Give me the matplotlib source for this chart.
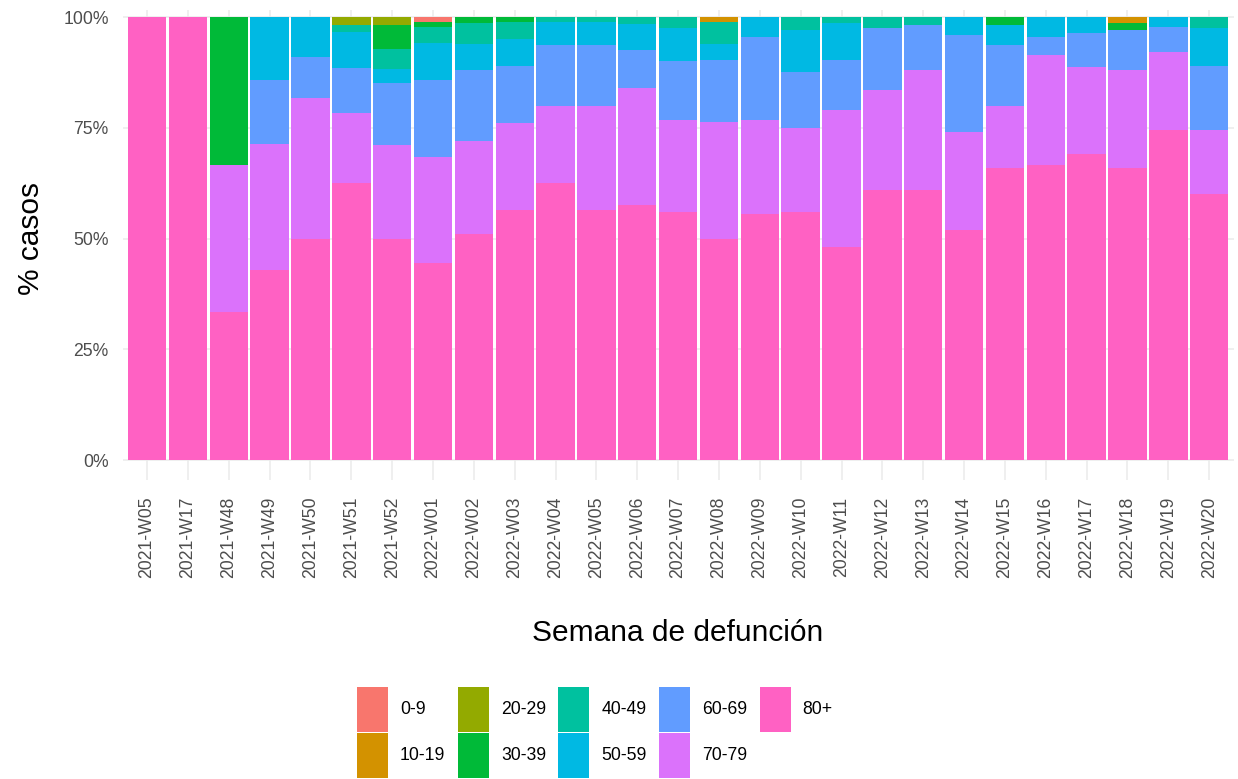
import numpy as np
import matplotlib
matplotlib.use("Agg")
import matplotlib.pyplot as plt
from matplotlib.patches import Patch

plt.rcParams['font.family'] = ['Liberation Sans', 'DejaVu Sans']

# semanas de defuncion
semanas = ["2021-W05", "2021-W17", "2021-W48", "2021-W49", "2021-W50", "2021-W51", "2021-W52",
           "2022-W01", "2022-W02", "2022-W03", "2022-W04", "2022-W05", "2022-W06", "2022-W07",
           "2022-W08", "2022-W09", "2022-W10", "2022-W11", "2022-W12", "2022-W13", "2022-W14",
           "2022-W15", "2022-W16", "2022-W17", "2022-W18", "2022-W19", "2022-W20"]

grupos = ["0-9", "10-19", "20-29", "30-39", "40-49", "50-59", "60-69", "70-79", "80+"]
colores = ["#F8766D", "#D39200", "#93AA00", "#00BA38", "#00C19F", "#00B9E3", "#619CFF", "#DB72FB", "#FF61C3"]

# % de casos por grupo de edad
g_0_9   = [0, 0, 0, 0, 0, 0, 0, 1.1, 0, 0, 0, 0, 0, 0, 0, 0, 0, 0, 0, 0, 0, 0, 0, 0, 0, 0, 0]
g_10_19 = [0, 0, 0, 0, 0, 0, 0, 0, 0, 0, 0, 0, 0, 0, 1.1, 0, 0, 0, 0, 0, 0, 0, 0, 0, 1.4, 0, 0]
g_20_29 = [0, 0, 0, 0, 0, 1.8, 1.8, 0, 0, 0, 0, 0, 0, 0, 0, 0, 0, 0, 0, 0, 0, 0, 0, 0, 0, 0, 0]
g_30_39 = [0, 0, 33.3, 0, 0, 0, 5.5, 1.1, 1.4, 1.1, 0, 0, 0, 0, 0, 0, 0, 0, 0, 0, 0, 1.8, 0, 0, 1.6, 0, 0]
g_40_49 = [0, 0, 0, 0, 0, 1.5, 4.5, 3.6, 4.6, 3.9, 1.1, 1.1, 1.5, 2.5, 5.0, 0, 3.0, 1.4, 2.5, 1.8, 0, 0, 0, 0, 0, 0, 2.5]
g_50_59 = [0, 0, 0, 14.3, 9.1, 8.2, 3.2, 8.4, 6.0, 6.0, 5.2, 5.2, 6.0, 7.5, 3.5, 4.5, 9.4, 8.3, 0, 0, 4.0, 4.5, 4.5, 3.6, 0, 2.3, 8.5]
g_60_69 = [0, 0, 0, 14.3, 9.1, 10.2, 14.0, 17.4, 16.0, 13.0, 13.7, 13.7, 8.5, 13.3, 14.0, 18.8, 12.6, 11.3, 14.0, 10.2, 22.0, 13.7, 4.0, 7.7, 9.0, 5.7, 14.5]
g_70_79 = [0, 0, 33.3, 28.6, 31.8, 15.8, 21.0, 23.9, 21.0, 19.5, 17.5, 23.5, 26.5, 20.7, 26.4, 21.2, 19.0, 31.0, 22.5, 27.0, 22.0, 14.0, 25.0, 19.7, 22.0, 17.5, 14.5]
g_80    = [100, 100, 33.3, 42.9, 50.0, 62.5, 50.0, 44.5, 51.0, 56.5, 62.5, 56.5, 57.5, 56.0, 50.0, 55.5, 56.0, 48.0, 61.0, 61.0, 52.0, 66.0, 66.5, 69.0, 66.0, 74.5, 60.0]

datos = np.array([g_0_9, g_10_19, g_20_29, g_30_39, g_40_49, g_50_59, g_60_69, g_70_79, g_80], dtype=float)
prop = datos / datos.sum(axis=0)  # como position = "fill"

fig = plt.figure(figsize=(12.38, 7.79), dpi=100)
ax = fig.add_axes([0.099, 0.3838, 0.8975, 0.6029])

x = np.arange(len(semanas))
base = np.zeros(len(semanas))
# 80+ abajo, 0-9 arriba
for i in range(len(grupos) - 1, -1, -1):
    ax.bar(x, prop[i], bottom=base, width=0.94, color=colores[i], linewidth=0, zorder=2)
    base += prop[i]

ax.set_xlim(-0.6, len(semanas) - 0.4)
ax.set_ylim(-0.045, 1.015)
ax.set_yticks([0, 0.25, 0.5, 0.75, 1.0])
ax.set_yticklabels(["0%", "25%", "50%", "75%", "100%"])
ax.set_xticks(x)
ax.set_xticklabels(semanas, rotation=90, va='top', ha='center')

for s in ax.spines.values():
    s.set_visible(False)
ax.grid(True, color="#EBEBEB", linewidth=1.1, zorder=0)
ax.set_axisbelow(True)
ax.tick_params(axis='both', length=0, labelsize=12.7, colors="#4D4D4D")
ax.tick_params(axis='y', pad=10)
ax.tick_params(axis='x', pad=12)

ax.set_xlabel("Semana de defunción", fontsize=21.5, color="black")
ax.xaxis.set_label_coords(0.5, -0.296)
ax.set_ylabel("% casos", fontsize=21.5, color="black")
ax.yaxis.set_label_coords(-0.070, 0.515)

handles = [Patch(facecolor=c, edgecolor='none', label=g) for g, c in zip(grupos, colores)]
fig.legend(handles=handles, loc='upper left', bbox_to_anchor=(357 / 1238, 1 - 687 / 779),
           ncol=5, frameon=False, fontsize=12.7, handlelength=1.76, handleheight=3.55,
           handletextpad=0.68, columnspacing=0.7, labelspacing=0.05, borderpad=0,
           borderaxespad=0)

fig.savefig("out.png", dpi=100)
